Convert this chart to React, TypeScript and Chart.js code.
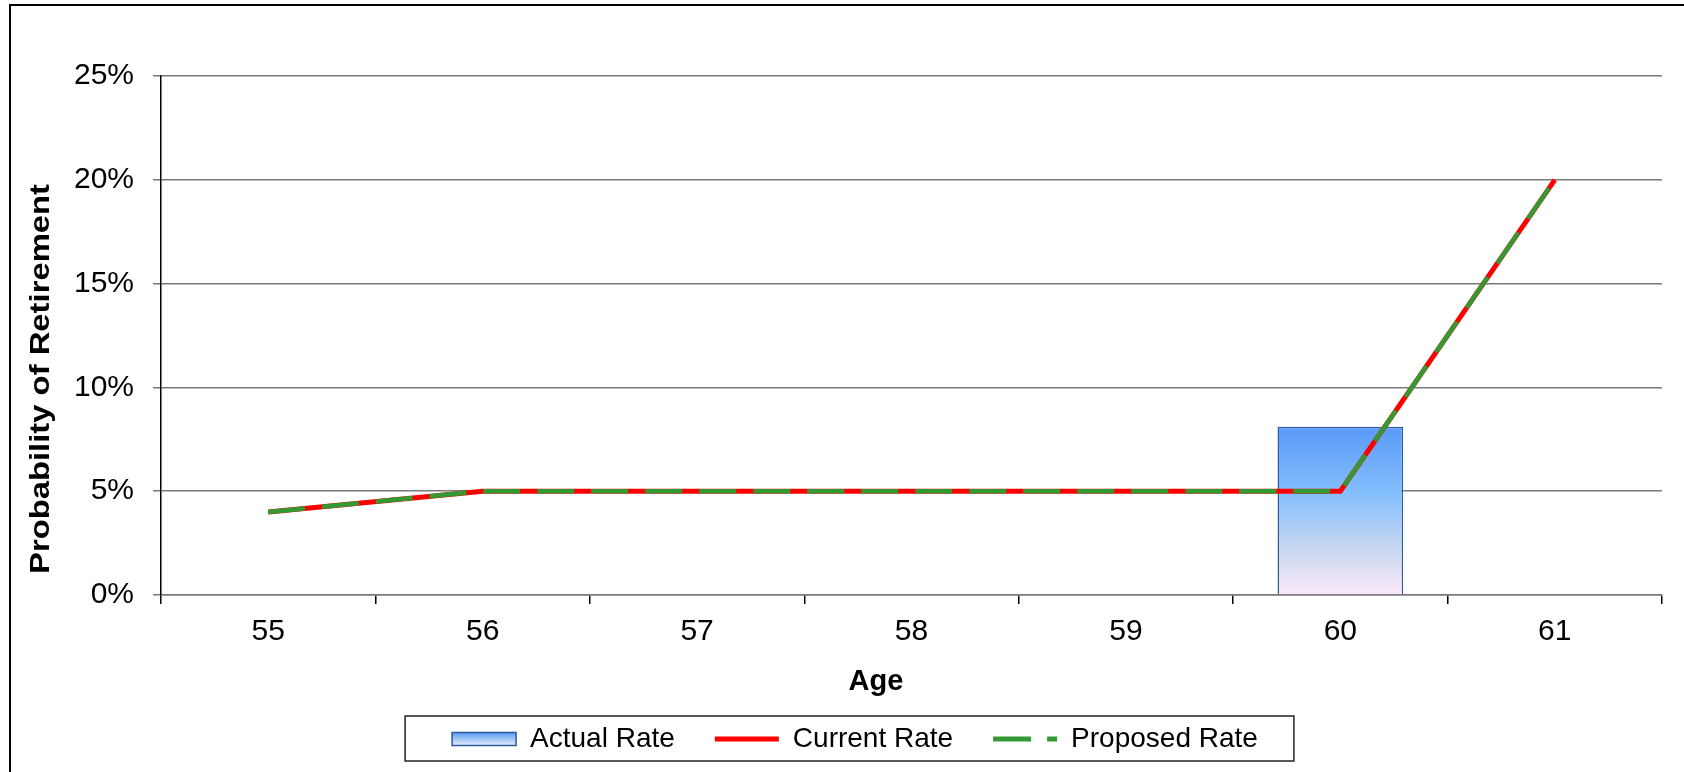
import React, { useEffect, useRef } from 'react';
import { Chart, registerables } from 'chart.js';

Chart.register(...registerables);

// ---- data ----
const CATEGORIES = ['55', '56', '57', '58', '59', '60', '61'];
const ACTUAL_RATE: (number | null)[] = [null, null, null, null, null, 8.1, null];
const CURRENT_RATE = [4, 5, 5, 5, 5, 5, 20];
const PROPOSED_RATE = [4, 5, 5, 5, 5, 5, 20];
const SERIES_LABELS = ['Actual Rate', 'Current Rate', 'Proposed Rate'];
const Y_MIN = 0;
const Y_MAX = 25;
const Y_STEP = 5;
const X_TITLE = 'Age';
const Y_TITLE = 'Probability of Retirement';

const FONT = "'Liberation Sans', Arial, Helvetica, sans-serif";
const RED = '#FF0000';
const GREEN = '#339933';
const BAR_BORDER = '#2D5A9C';
const GRID = '#7A7A7A';
const LEGEND_H = 60;
const LEGEND_FONT = 28;

const decorPlugin = {
  id: 'decor',
  beforeLayout(chart: any) {
    const lg = chart.legend;
    if (lg && !lg._fixedFit) {
      const orig = lg.fit;
      lg.fit = function () {
        orig.call(this);
        this.height = LEGEND_H;
      };
      lg._fixedFit = true;
    }
  },
  afterLayout(chart: any) {
    const lg = chart.legend;
    if (!lg) return;
    const pad = lg.options.labels.padding;
    const dx = 855 - (lg.left + lg.right) / 2;
    lg.left += dx;
    lg.right += dx;
    lg.top = 739 - LEGEND_FONT / 2 - pad;
    lg.bottom = 772;
    lg.height = lg.bottom - lg.top;
  },
  beforeDraw(chart: any) {
    const ctx = chart.ctx;
    ctx.save();
    ctx.strokeStyle = '#000';
    ctx.lineWidth = 2;
    ctx.strokeRect(10, 5, 4000, 4000);
    ctx.restore();
    const lg = chart.legend;
    if (lg && lg.legendHitBoxes && lg.legendHitBoxes.length && lg.legendItems && lg.legendItems.length) {
      const hb = lg.legendHitBoxes[0];
      const cy = hb.top + LEGEND_FONT / 2;
      const g = ctx.createLinearGradient(0, cy - 6.5, 0, cy + 6.5);
      g.addColorStop(0, '#5C9AF2');
      g.addColorStop(1, '#E6EFFD');
      lg.legendItems[0].fillStyle = g;
    }
  },
  afterDraw(chart: any) {
    const ctx = chart.ctx;
    const lg = chart.legend;
    ctx.save();
    if (lg && lg.legendHitBoxes && lg.legendHitBoxes.length) {
      const hbs = lg.legendHitBoxes;
      const first = hbs[0];
      const last = hbs[hbs.length - 1];
      const cy = first.top + LEGEND_FONT / 2;
      const left = first.left - 47;
      const right = last.left + last.width + 36;
      ctx.strokeStyle = '#222';
      ctx.lineWidth = 1.5;
      ctx.strokeRect(left, cy - 23, right - left, 45);
    }
    ctx.fillStyle = '#000';
    ctx.font = `bold 29px ${FONT}`;
    ctx.textAlign = 'center';
    ctx.textBaseline = 'alphabetic';
    ctx.fillText(X_TITLE, 876, 690);
    ctx.font = `bold 28px ${FONT}`;
    const w = ctx.measureText(Y_TITLE).width;
    ctx.translate(49, 379);
    ctx.rotate(-Math.PI / 2);
    ctx.scale(390 / w, 1);
    ctx.fillText(Y_TITLE, 0, 0);
    ctx.restore();
  },
};

export default function App() {
  const ref = useRef<HTMLCanvasElement | null>(null);

  useEffect(() => {
    if (!ref.current) return;
    Chart.defaults.font.family = FONT;
    const chart = new Chart(ref.current, {
      type: 'bar',
      data: {
        labels: CATEGORIES,
        datasets: [
          {
            type: 'bar',
            label: SERIES_LABELS[0],
            data: ACTUAL_RATE,
            order: 3,
            categoryPercentage: 1,
            barPercentage: 0.586,
            borderColor: BAR_BORDER,
            borderWidth: 1.5,
            backgroundColor: (c: any) => {
              const ch = c.chart;
              if (!ch.chartArea) return '#7FB2F5';
              const vals = ACTUAL_RATE.filter((v) => v != null) as number[];
              const yTop = ch.scales.y.getPixelForValue(Math.max(...vals));
              const yBot = ch.scales.y.getPixelForValue(0);
              const g = ch.ctx.createLinearGradient(0, yTop, 0, yBot);
              g.addColorStop(0, '#5A9AF9');
              g.addColorStop(0.4, '#84BFFD');
              g.addColorStop(0.7, '#C3D5F1');
              g.addColorStop(1, '#FAE9F8');
              return g;
            },
          } as any,
          {
            type: 'line',
            label: SERIES_LABELS[1],
            data: CURRENT_RATE,
            order: 2,
            borderColor: RED,
            borderWidth: 5,
            pointRadius: 0,
            tension: 0,
            fill: false,
          } as any,
          {
            type: 'line',
            label: SERIES_LABELS[2],
            data: PROPOSED_RATE,
            order: 1,
            borderColor: GREEN,
            borderWidth: 4.5,
            borderDash: [37, 17],
            pointRadius: 0,
            tension: 0,
            fill: false,
          } as any,
        ],
      },
      options: {
        animation: false,
        responsive: false,
        maintainAspectRatio: false,
        layout: { padding: { left: 0, right: 22, top: 76, bottom: 0 } },
        plugins: {
          tooltip: { enabled: false },
          legend: {
            position: 'bottom',
            align: 'center',
            labels: {
              usePointStyle: true,
              pointStyleWidth: 64,
              boxHeight: 13,
              padding: 40,
              color: '#000',
              font: { size: LEGEND_FONT, family: FONT },
              generateLabels: (ch: any) => {
                const ds = ch.data.datasets;
                return [
                  {
                    text: ds[0].label,
                    fillStyle: '#9CC3F5',
                    strokeStyle: BAR_BORDER,
                    lineWidth: 1.5,
                    pointStyle: 'rect',
                    datasetIndex: 0,
                    hidden: false,
                    fontColor: '#000',
                  },
                  {
                    text: ds[1].label,
                    fillStyle: 'rgba(0,0,0,0)',
                    strokeStyle: RED,
                    lineWidth: 5,
                    pointStyle: 'line',
                    datasetIndex: 1,
                    hidden: false,
                    fontColor: '#000',
                  },
                  {
                    text: ds[2].label,
                    fillStyle: 'rgba(0,0,0,0)',
                    strokeStyle: GREEN,
                    lineWidth: 5,
                    lineDash: [38, 16],
                    pointStyle: 'line',
                    datasetIndex: 2,
                    hidden: false,
                    fontColor: '#000',
                  },
                ];
              },
            },
          },
        },
        scales: {
          x: {
            offset: true,
            ticks: { color: '#000', font: { size: 30, family: FONT }, padding: 10, maxRotation: 0 },
            grid: { offset: true, drawOnChartArea: false, color: '#000', lineWidth: 1.5, tickLength: 9 },
            border: { display: true, color: GRID, width: 1.5 },
            afterFit: (s: any) => {
              s.height = 772 - LEGEND_H - 595;
            },
          },
          y: {
            min: Y_MIN,
            max: Y_MAX,
            ticks: {
              stepSize: Y_STEP,
              color: '#000',
              font: { size: 30, family: FONT },
              padding: 19,
              callback: (v: any) => `${v}%`,
            },
            grid: { color: GRID, lineWidth: 1.5, tickLength: 8 },
            border: { display: true, color: '#000', width: 1.5 },
            afterFit: (s: any) => {
              s.width = 161;
            },
          },
        },
      },
      plugins: [decorPlugin],
    });
    return () => chart.destroy();
  }, []);

  return (
    <div style={{ position: 'absolute', left: 0, top: 0, width: 1684, height: 772, background: '#fff' }}>
      <canvas ref={ref} width={1684} height={772} style={{ display: 'block' }} />
    </div>
  );
}
